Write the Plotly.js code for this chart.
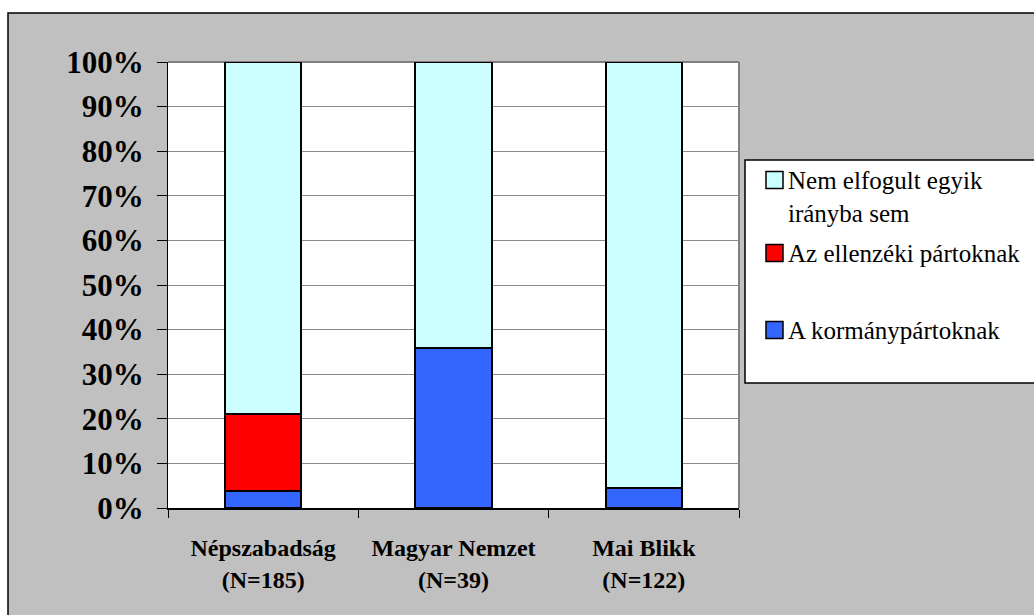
<!DOCTYPE html>
<html>
<head>
<meta charset="utf-8">
<script src="https://cdn.plot.ly/plotly-3.0.1.min.js"></script>
<style>html,body{margin:0;padding:0;background:#fff;}#chart{width:1034px;height:615px;}</style>
</head>
<body>
<div id="chart"></div>
<script>
// ---- data ----
const categories = ['Népszabadság<br>(N=185)', 'Magyar Nemzet<br>(N=39)', 'Mai Blikk<br>(N=122)'];
const seriesNames = ['A kormánypártoknak', 'Az ellenzéki pártoknak', 'Nem elfogult egyik irányba sem'];
const kormanyPartoknak = [3.8, 35.9, 4.4];
const ellenzekiPartoknak = [17.3, 0, 0];
const nemElfogult = [78.9, 64.1, 95.6];
const yTickVals = [0, 10, 20, 30, 40, 50, 60, 70, 80, 90, 100];
const yTickText = ['0%', '10%', '20%', '30%', '40%', '50%', '60%', '70%', '80%', '90%', '100%'];
const legendLabels = ['Nem elfogult egyik<br>irányba sem', 'Az ellenzéki pártoknak', 'A kormánypártoknak'];

const seriesColors = ['#3366FF', '#FF0000', '#CCFFFF'];
const serif = 'Liberation Serif';

// plot area in pixels
const W = 1034, H = 615;
const L = 168, R = 739, T = 62, B = 508;
const px2x = p => (p - L) / (R - L);
const px2y = p => (B - p) / (B - T);

const seriesValues = [kormanyPartoknak, ellenzekiPartoknak, nemElfogult];
const traces = seriesValues.map((vals, i) => ({
  type: 'bar',
  name: seriesNames[i],
  x: categories,
  y: vals,
  marker: { color: seriesColors[i], line: { color: '#000', width: 2 } },
  showlegend: false,
  hoverinfo: 'x+y+name'
}));

const shapes = [
  // outer chart area
  { type: 'rect', xref: 'paper', yref: 'paper', layer: 'below',
    x0: px2x(8), x1: px2x(1045), y0: px2y(625), y1: px2y(13),
    fillcolor: '#C0C0C0', line: { color: '#000', width: 1.5 } },
  // plot area
  { type: 'rect', xref: 'paper', yref: 'paper', layer: 'below',
    x0: 0, x1: 1, y0: 0, y1: 1, fillcolor: '#FFFFFF', line: { width: 0 } },
  // top & right border of plot area
  { type: 'line', xref: 'paper', yref: 'paper', layer: 'below',
    x0: 0, x1: 1, y0: 1, y1: 1, line: { color: '#808080', width: 2 } },
  { type: 'line', xref: 'paper', yref: 'paper', layer: 'below',
    x0: 1, x1: 1, y0: 0, y1: 1, line: { color: '#808080', width: 2 } },
  // legend box
  { type: 'rect', xref: 'paper', yref: 'paper', layer: 'above',
    x0: px2x(745), x1: px2x(1045), y0: px2y(383), y1: px2y(160),
    fillcolor: '#FFFFFF', line: { color: '#000', width: 1.5 } }
];

// legend entries (top to bottom: reversed series order)
const legendSquareY = [180, 253, 330];
const legendTextY = [196.5, 253, 330];
const legendColors = [seriesColors[2], seriesColors[1], seriesColors[0]];
const annotations = [];
legendLabels.forEach((lab, i) => {
  shapes.push({ type: 'rect', xref: 'paper', yref: 'paper', layer: 'above',
    x0: px2x(766), x1: px2x(783), y0: px2y(legendSquareY[i] + 8.5), y1: px2y(legendSquareY[i] - 8.5),
    fillcolor: legendColors[i], line: { color: '#000', width: 1.5 } });
  annotations.push({ xref: 'paper', yref: 'paper', x: px2x(786), y: px2y(legendTextY[i]),
    xanchor: 'left', yanchor: 'middle', align: 'left', showarrow: false, text: lab,
    font: { family: serif, size: 25, color: '#000' } });
});

const layout = {
  width: W, height: H,
  margin: { l: L, r: W - R, t: T, b: H - B, pad: 0 },
  paper_bgcolor: '#FFFFFF',
  plot_bgcolor: 'rgba(0,0,0,0)',
  font: { family: serif, color: '#000' },
  barmode: 'stack',
  bargap: 0.6,
  showlegend: false,
  xaxis: {
    type: 'category',
    showline: true, linecolor: '#000', linewidth: 1.5,
    ticks: 'outside', ticklen: 8, tickcolor: '#000', tickwidth: 1,
    tickson: 'boundaries',
    showgrid: false, zeroline: false,
    ticklabelstandoff: 18,
    tickfont: { family: serif, size: 24, color: '#000', weight: 'bold' }
  },
  yaxis: {
    range: [0, 100],
    tickvals: yTickVals, ticktext: yTickText,
    showline: true, linecolor: '#000', linewidth: 1,
    ticks: 'outside', ticklen: 10, tickcolor: '#000', tickwidth: 1,
    showgrid: true, gridcolor: '#8c8c8c', gridwidth: 1,
    zeroline: false,
    ticklabelstandoff: 7,
    tickfont: { family: serif, size: 31, color: '#000', weight: 'bold' }
  },
  shapes: shapes,
  annotations: annotations
};

Plotly.newPlot('chart', traces, layout, { displayModeBar: false, staticPlot: true });
</script>
</body>
</html>
